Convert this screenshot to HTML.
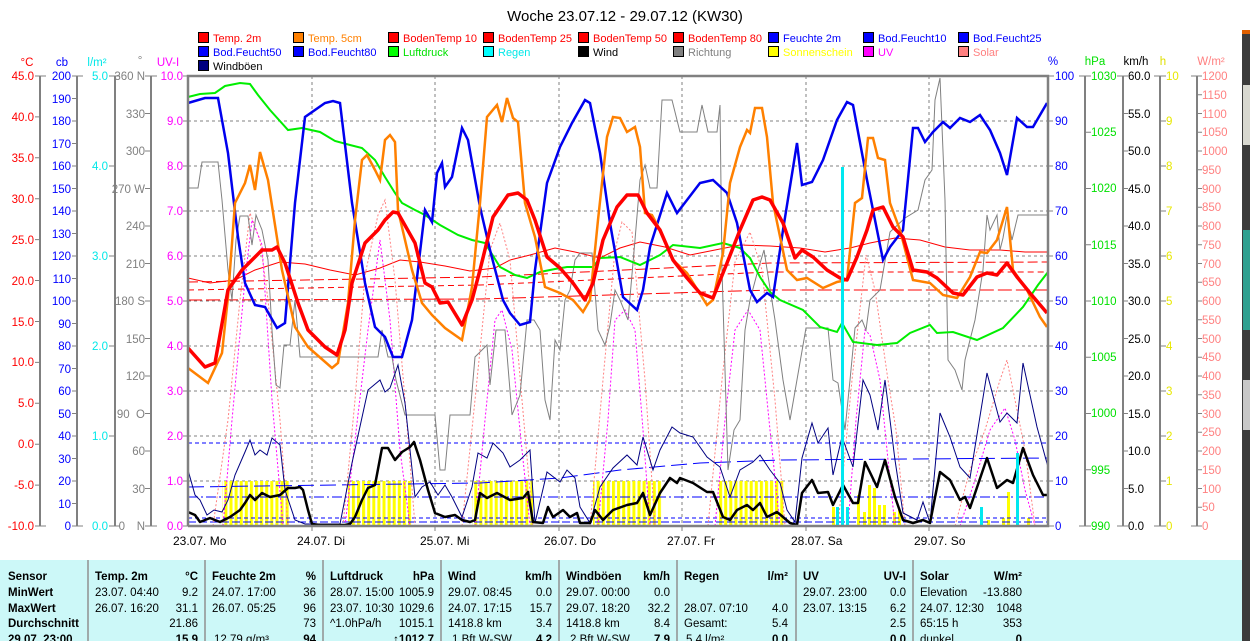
<!DOCTYPE html>
<html><head><meta charset="utf-8"><style>
html,body{margin:0;padding:0;background:#fff;width:1250px;height:641px;overflow:hidden}
svg{display:block;font-family:"Liberation Sans",sans-serif}
</style></head><body>
<svg width="1250" height="641" viewBox="0 0 1250 641" xmlns="http://www.w3.org/2000/svg">
<defs>
<pattern id="sun" x="0" y="0" width="5.1" height="60" patternUnits="userSpaceOnUse"><rect x="0" y="0" width="3" height="60" fill="#ffff00"/></pattern>
</defs>
<rect x="1242" y="30" width="8" height="611" fill="#3c3c3c"/>
<rect x="1242" y="30" width="8" height="4" fill="#e06000"/>
<rect x="1243" y="85" width="7" height="60" fill="#d8d8d0"/>
<rect x="1243" y="230" width="7" height="100" fill="#30a090"/>
<rect x="1243" y="380" width="7" height="50" fill="#c8c8c8"/>

<text x="625" y="21" font-size="15" text-anchor="middle" fill="#000">Woche 23.07.12 - 29.07.12 (KW30)</text>

<!-- legend -->
<g font-size="11" stroke-width="1">
<rect x="198.5" y="32.5" width="10" height="10" fill="#f00" stroke="#000"/><text x="213" y="42" fill="#f00">Temp. 2m</text>
<rect x="293.5" y="32.5" width="10" height="10" fill="#ff8000" stroke="#000"/><text x="308" y="42" fill="#ff8000">Temp. 5cm</text>
<rect x="388.5" y="32.5" width="10" height="10" fill="#f00" stroke="#000"/><text x="403" y="42" fill="#f00">BodenTemp 10</text>
<rect x="483.5" y="32.5" width="10" height="10" fill="#f00" stroke="#000"/><text x="498" y="42" fill="#f00">BodenTemp 25</text>
<rect x="578.5" y="32.5" width="10" height="10" fill="#f00" stroke="#000"/><text x="593" y="42" fill="#f00">BodenTemp 50</text>
<rect x="673.5" y="32.5" width="10" height="10" fill="#f00" stroke="#000"/><text x="688" y="42" fill="#f00">BodenTemp 80</text>
<rect x="768.5" y="32.5" width="10" height="10" fill="#00f" stroke="#000"/><text x="783" y="42" fill="#00f">Feuchte 2m</text>
<rect x="863.5" y="32.5" width="10" height="10" fill="#00f" stroke="#000"/><text x="878" y="42" fill="#00f">Bod.Feucht10</text>
<rect x="958.5" y="32.5" width="10" height="10" fill="#00f" stroke="#000"/><text x="973" y="42" fill="#00f">Bod.Feucht25</text>
<rect x="198.5" y="46.5" width="10" height="10" fill="#00f" stroke="#000"/><text x="213" y="56" fill="#00f">Bod.Feucht50</text>
<rect x="293.5" y="46.5" width="10" height="10" fill="#00f" stroke="#000"/><text x="308" y="56" fill="#00f">Bod.Feucht80</text>
<rect x="388.5" y="46.5" width="10" height="10" fill="#00ff00" stroke="#000"/><text x="403" y="56" fill="#00e000">Luftdruck</text>
<rect x="483.5" y="46.5" width="10" height="10" fill="#00ffff" stroke="#000"/><text x="498" y="56" fill="#00e8e8">Regen</text>
<rect x="578.5" y="46.5" width="10" height="10" fill="#000" stroke="#000"/><text x="593" y="56" fill="#000">Wind</text>
<rect x="673.5" y="46.5" width="10" height="10" fill="#808080" stroke="#000"/><text x="688" y="56" fill="#808080">Richtung</text>
<rect x="768.5" y="46.5" width="10" height="10" fill="#ffff00" stroke="#000"/><text x="783" y="56" fill="#ffff00">Sonnenschein</text>
<rect x="863.5" y="46.5" width="10" height="10" fill="#ff00ff" stroke="#000"/><text x="878" y="56" fill="#ff00ff">UV</text>
<rect x="958.5" y="46.5" width="10" height="10" fill="#ff8080" stroke="#000"/><text x="973" y="56" fill="#ff8080">Solar</text>
<rect x="198.5" y="60.5" width="10" height="10" fill="#000080" stroke="#000"/><text x="213" y="70" fill="#000">Windböen</text>
</g>

<!-- axis headers -->
<g font-size="11.5">
<text x="27" y="66" fill="#f00" text-anchor="middle">°C</text>
<text x="62" y="66" fill="#00f" text-anchor="middle">cb</text>
<text x="97" y="66" fill="#00e8e8" text-anchor="middle">l/m²</text>
<text x="140" y="64" fill="#808080" text-anchor="middle">°</text>
<text x="168" y="66" fill="#ff00ff" text-anchor="middle">UV-I</text>
<text x="1053" y="65" fill="#00f" text-anchor="middle">%</text>
<text x="1095" y="65" fill="#00e000" text-anchor="middle">hPa</text>
<text x="1136" y="65" fill="#000" text-anchor="middle">km/h</text>
<text x="1163" y="65" fill="#e0e000" text-anchor="middle">h</text>
<text x="1211" y="65" fill="#ff8080" text-anchor="middle">W/m²</text>
</g>

<!-- axes lines -->
<g stroke="#808080" stroke-width="2" fill="none">
<line x1="40" y1="76" x2="40" y2="526"/>
<line x1="77" y1="76" x2="77" y2="526"/>
<line x1="115" y1="76" x2="115" y2="526"/>
<line x1="151" y1="76" x2="151" y2="526"/>
<line x1="1085" y1="76" x2="1085" y2="526"/>
<line x1="1123" y1="76" x2="1123" y2="526"/>
<line x1="1160" y1="76" x2="1160" y2="526"/>
<line x1="1197" y1="76" x2="1197" y2="526"/>
</g>
<g stroke="#808080" stroke-width="1">
<path d="M35 76H46M35 116.9H40M35 157.8H40M35 198.7H40M35 239.6H40M35 280.5H40M35 321.5H40M35 362.4H40M35 403.3H40M35 444.2H40M35 485.1H40M35 526H46"/>
<path d="M72 76H83M72 98.5H77M72 121H77M72 143.5H77M72 166H77M72 188.5H77M72 211H77M72 233.5H77M72 256H77M72 278.5H77M72 301H77M72 323.5H77M72 346H77M72 368.5H77M72 391H77M72 413.5H77M72 436H77M72 458.5H77M72 481H77M72 503.5H77M72 526H83"/>
<path d="M109 76H120M109 166H115M109 256H115M109 346H115M109 436H115M109 526H120"/>
<path d="M145 76H157M145 113.5H151M145 151H151M145 188.5H151M145 226H151M145 263.5H151M145 301H151M145 338.5H151M145 376H151M145 413.5H151M145 451H151M145 488.5H151M145 526H157"/>
<path d="M183 76H188M183 121H188M183 166H188M183 211H188M183 256H188M183 301H188M183 346H188M183 391H188M183 436H188M183 481H188M183 526H188"/>
<path d="M1048 76H1054M1048 121H1053M1048 166H1053M1048 211H1053M1048 256H1053M1048 301H1053M1048 346H1053M1048 391H1053M1048 436H1053M1048 481H1053M1048 526H1054"/>
<path d="M1079 76H1091M1085 132.25H1091M1085 188.5H1091M1085 244.75H1091M1085 301H1091M1085 357.25H1091M1085 413.5H1091M1085 469.75H1091M1079 526H1091"/>
<path d="M1117 76H1128M1123 113.5H1128M1123 151H1128M1123 188.5H1128M1123 226H1128M1123 263.5H1128M1123 301H1128M1123 338.5H1128M1123 376H1128M1123 413.5H1128M1123 451H1128M1123 488.5H1128M1117 526H1128"/>
<path d="M1154 76H1166M1160 121H1166M1160 166H1166M1160 211H1166M1160 256H1166M1160 301H1166M1160 346H1166M1160 391H1166M1160 436H1166M1160 481H1166M1154 526H1166"/>
<path d="M1191 76H1202M1197 94.75H1202M1197 113.5H1202M1197 132.25H1202M1197 151H1202M1197 169.75H1202M1197 188.5H1202M1197 207.25H1202M1197 226H1202M1197 244.75H1202M1197 263.5H1202M1197 282.25H1202M1197 301H1202M1197 319.75H1202M1197 338.5H1202M1197 357.25H1202M1197 376H1202M1197 394.75H1202M1197 413.5H1202M1197 432.25H1202M1197 451H1202M1197 469.75H1202M1197 488.5H1202M1197 507.25H1202M1191 526H1202"/>
</g>

<!-- left labels -->
<g font-size="11.5" text-anchor="end">
<g fill="#f00"><text x="34" y="80">45.0</text><text x="34" y="121">40.0</text><text x="34" y="162">35.0</text><text x="34" y="203">30.0</text><text x="34" y="244">25.0</text><text x="34" y="285">20.0</text><text x="34" y="326">15.0</text><text x="34" y="366">10.0</text><text x="34" y="407">5.0</text><text x="34" y="448">0.0</text><text x="34" y="489">-5.0</text><text x="34" y="530">-10.0</text></g>
<g fill="#00f"><text x="71" y="80">200</text><text x="71" y="103">190</text><text x="71" y="125">180</text><text x="71" y="148">170</text><text x="71" y="170">160</text><text x="71" y="193">150</text><text x="71" y="215">140</text><text x="71" y="238">130</text><text x="71" y="260">120</text><text x="71" y="283">110</text><text x="71" y="305">100</text><text x="71" y="328">90</text><text x="71" y="350">80</text><text x="71" y="373">70</text><text x="71" y="395">60</text><text x="71" y="418">50</text><text x="71" y="440">40</text><text x="71" y="463">30</text><text x="71" y="485">20</text><text x="71" y="508">10</text><text x="71" y="530">0</text></g>
<g fill="#00e8e8"><text x="108" y="80">5.0</text><text x="108" y="170">4.0</text><text x="108" y="260">3.0</text><text x="108" y="350">2.0</text><text x="108" y="440">1.0</text><text x="108" y="530">0.0</text></g>
<g fill="#808080"><text x="145" y="80">360 N</text><text x="145" y="118">330</text><text x="145" y="155">300</text><text x="145" y="193">270 W</text><text x="145" y="230">240</text><text x="145" y="268">210</text><text x="145" y="305">180 S</text><text x="145" y="343">150</text><text x="145" y="380">120</text><text x="145" y="418" xml:space="preserve">90  O</text><text x="145" y="455">60</text><text x="145" y="493">30</text><text x="125" y="530">0</text><text x="145" y="530">N</text></g>
<g fill="#ff00ff"><text x="183" y="80">10.0</text><text x="183" y="125">9.0</text><text x="183" y="170">8.0</text><text x="183" y="215">7.0</text><text x="183" y="260">6.0</text><text x="183" y="305">5.0</text><text x="183" y="350">4.0</text><text x="183" y="395">3.0</text><text x="183" y="440">2.0</text><text x="183" y="485">1.0</text><text x="183" y="530">0.0</text></g>
</g>
<!-- right labels -->
<g font-size="11.5">
<g fill="#00f"><text x="1055" y="80">100</text><text x="1055" y="125">90</text><text x="1055" y="170">80</text><text x="1055" y="215">70</text><text x="1055" y="260">60</text><text x="1055" y="305">50</text><text x="1055" y="350">40</text><text x="1055" y="395">30</text><text x="1055" y="440">20</text><text x="1055" y="485">10</text><text x="1055" y="530">0</text></g>
<g fill="#00e000"><text x="1091" y="80">1030</text><text x="1091" y="136">1025</text><text x="1091" y="192">1020</text><text x="1091" y="249">1015</text><text x="1091" y="305">1010</text><text x="1091" y="361">1005</text><text x="1091" y="417">1000</text><text x="1091" y="474">995</text><text x="1091" y="530">990</text></g>
<g fill="#000"><text x="1128" y="80">60.0</text><text x="1128" y="118">55.0</text><text x="1128" y="155">50.0</text><text x="1128" y="193">45.0</text><text x="1128" y="230">40.0</text><text x="1128" y="268">35.0</text><text x="1128" y="305">30.0</text><text x="1128" y="343">25.0</text><text x="1128" y="380">20.0</text><text x="1128" y="418">15.0</text><text x="1128" y="455">10.0</text><text x="1128" y="493">5.0</text><text x="1128" y="530">0.0</text></g>
<g fill="#e8e800"><text x="1166" y="80">10</text><text x="1166" y="125">9</text><text x="1166" y="170">8</text><text x="1166" y="215">7</text><text x="1166" y="260">6</text><text x="1166" y="305">5</text><text x="1166" y="350">4</text><text x="1166" y="395">3</text><text x="1166" y="440">2</text><text x="1166" y="485">1</text><text x="1166" y="530">0</text></g>
<g fill="#ff8080"><text x="1202" y="80">1200</text><text x="1202" y="99">1150</text><text x="1202" y="118">1100</text><text x="1202" y="136">1050</text><text x="1202" y="155">1000</text><text x="1202" y="174">950</text><text x="1202" y="193">900</text><text x="1202" y="211">850</text><text x="1202" y="230">800</text><text x="1202" y="249">750</text><text x="1202" y="268">700</text><text x="1202" y="286">650</text><text x="1202" y="305">600</text><text x="1202" y="324">550</text><text x="1202" y="343">500</text><text x="1202" y="361">450</text><text x="1202" y="380">400</text><text x="1202" y="399">350</text><text x="1202" y="418">300</text><text x="1202" y="436">250</text><text x="1202" y="455">200</text><text x="1202" y="474">150</text><text x="1202" y="493">100</text><text x="1202" y="511">50</text><text x="1202" y="530">0</text></g>
</g>

<!-- grid -->
<g stroke="#808080" stroke-width="1" stroke-dasharray="3,3">
<path d="M188 121H1048M188 166H1048M188 211H1048M188 256H1048M188 301H1048M188 346H1048M188 391H1048M188 436H1048M188 481H1048"/>
<path d="M312 76V526M435 76V526M559 76V526M682 76V526M806 76V526M929 76V526"/>
</g>

<!-- sunshine -->
<g fill="url(#sun)">
<rect x="222" y="481" width="68" height="45"/>
<rect x="348" y="481" width="64" height="45"/>
<rect x="472" y="481" width="61" height="45"/>
<rect x="593" y="481" width="70" height="45"/>
<rect x="717" y="481" width="68" height="45"/>
</g>
<g fill="#ffff00">
<rect x="770" y="481" width="3" height="45"/><rect x="775" y="490" width="3" height="36"/>
<rect x="832" y="507" width="3" height="19"/><rect x="857" y="495" width="3" height="31"/><rect x="863" y="512" width="3" height="14"/><rect x="868" y="485" width="3" height="41"/><rect x="873" y="488" width="3" height="38"/><rect x="878" y="505" width="3" height="21"/><rect x="883" y="505" width="3" height="21"/><rect x="893" y="512" width="3" height="14"/><rect x="898" y="510" width="3" height="16"/>
<rect x="987" y="520" width="3" height="6"/><rect x="1002" y="518" width="3" height="8"/><rect x="1007" y="492" width="3" height="34"/><rect x="1027" y="518" width="3" height="8"/>
</g>

<!-- soil temps / soil moisture dashed -->
<g fill="none" stroke-width="1">
<path d="M188 282L480 277L770 263L1048 262" stroke="#f00" stroke-dasharray="10,4"/>
<path d="M188 290L480 285L770 272L1048 272" stroke="#f00" stroke-dasharray="6,4"/>
<path d="M188 300L480 299L770 290L1048 290" stroke="#f00" stroke-dasharray="14,4"/>
<path d="M188 278L210 283L235 280L255 270L280 262L305 264L330 270L355 275L380 268L400 260L420 262L445 266L470 271L495 268L510 260L530 255L555 248L575 252L600 258L620 248L640 242L665 247L690 255L715 250L740 245L770 246L800 248L825 252L850 248L870 243L895 238L920 240L945 247L970 250L1000 250L1025 252L1048 252" stroke="#f00"/>
<path d="M188 443H1048" stroke="#00f" stroke-dasharray="4,3"/>
<path d="M188 487L480 483L560 478L620 470L700 463L780 460L1048 458" stroke="#00f" stroke-dasharray="16,6"/>
<path d="M188 497H1048" stroke="#00f" stroke-dasharray="10,3,2,3"/>
<path d="M188 518H1048" stroke="#00f" stroke-dasharray="4,3"/>
<path d="M188 522H1048" stroke="#00f" stroke-dasharray="8,3"/>
</g>

<!-- solar & uv dotted -->
<g fill="none" stroke-width="1" stroke-dasharray="2,2">
<path stroke="#ff8080" d="M213 526L228 420L240 300L250 213L260 240L268 300L280 420L288 526M343 526L355 400L365 275L378 215L385 200L395 280L405 400L415 526M462 526L475 400L490 250L500 223L510 260L522 400L533 526M590 526L603 380L615 250L622 222L632 232L645 380L655 526M708 526L722 380L735 262L750 232L762 270L775 400L785 526M838 526L852 380L866 255L875 290L888 380L896 430L905 526M955 526L970 470L985 430L1000 380L1007 360L1015 400L1025 450L1035 526"/>
<path stroke="#ff00ff" d="M223 526L232 420L245 280L252 220L262 245L272 400L283 526M345 526L355 440L368 330L380 240L390 320L400 450L410 526M475 526L485 420L495 320L502 310L512 350L522 450L530 526M598 526L608 420L615 320L625 310L635 330L643 430L650 526M715 526L725 420L735 330L748 310L760 330L770 430L780 526M848 526L856 420L865 330L870 335L880 380L888 460L895 526M960 526L975 480L990 430L1005 408L1015 440L1025 490L1035 526"/>
</g>

<!-- wind direction -->
<polyline fill="none" stroke="#808080" stroke-width="1" points="188,188 198,188 202,162 218,162 222,200 228,270 232,300 236,240 240,216 248,216 252,245 256,215 262,230 268,260 272,330 276,385 280,388 284,345 290,345 295,300 300,357 378,357 382,330 388,357 392,357 396,380 405,415 430,415 435,415 440,470 445,470 450,415 470,415 475,357 487,345 490,385 496,330 505,330 512,415 520,395 527,320 534,320 540,330 545,400 550,420 555,340 560,350 565,300 570,290 575,260 580,253 592,253 598,330 605,345 610,325 615,290 620,300 628,320 635,240 640,180 645,165 650,188 657,188 662,100 672,100 680,132 697,132 702,105 708,132 717,132 720,105 722,270 728,470 734,430 740,420 745,330 750,300 758,270 764,250 775,320 783,380 790,420 806,328 828,328 833,380 838,383 845,430 850,380 855,328 862,320 866,330 870,300 880,290 890,232 905,218 918,210 925,180 932,170 935,100 940,78 945,200 948,360 955,370 962,390 965,360 975,320 983,270 987,215 990,230 997,215 1000,250 1003,238 1007,215 1012,240 1018,215 1048,215"/>

<!-- gusts -->
<polyline fill="none" stroke="#000080" stroke-width="1" points="188,470 195,495 200,500 207,515 214,510 222,512 228,500 235,475 245,452 250,440 255,455 260,450 267,455 272,438 280,445 285,490 295,520 305,524 340,524 352,463 368,390 380,380 385,392 390,388 398,365 405,403 415,497 422,487 430,482 438,495 445,485 452,497 462,517 472,487 478,453 487,458 493,443 503,453 510,467 520,460 530,450 535,523 547,472 560,482 567,470 575,478 580,507 590,523 600,487 613,468 627,455 637,465 643,437 653,470 660,450 672,427 680,433 693,437 707,457 720,467 730,497 740,470 753,462 760,455 770,470 780,483 787,510 795,522 802,458 812,423 818,443 828,428 833,475 842,437 853,467 863,380 870,395 878,430 885,380 895,460 903,513 917,520 923,502 930,523 940,413 950,437 960,467 970,478 987,373 1000,422 1007,413 1017,423 1023,363 1037,427 1048,467"/>

<!-- pressure -->
<polyline fill="none" stroke="#00ee00" stroke-width="2" points="188,97 200,94 215,93 225,86 240,83 250,84 258,95 270,110 288,130 302,128 320,132 335,141 350,145 362,148 375,160 385,177 395,193 402,203 415,210 425,215 440,225 458,235 472,240 485,243 500,267 515,275 527,278 540,272 555,269 567,267 593,267 600,258 620,257 640,265 660,255 673,245 700,248 723,243 740,248 750,258 760,277 770,292 780,300 803,310 820,327 837,332 842,323 853,342 877,345 897,343 910,333 930,325 937,333 953,332 977,340 1003,328 1023,307 1038,285 1048,272"/>

<!-- humidity -->
<polyline fill="none" stroke="#0000ee" stroke-width="2.5" points="188,103 205,98 218,98 228,153 238,237 245,283 255,305 265,307 277,328 285,323 295,203 305,117 325,103 333,101 340,103 352,203 365,283 375,327 385,337 393,357 402,357 412,320 425,210 432,222 437,173 442,163 445,187 452,177 462,128 468,140 480,207 490,250 503,300 510,313 520,325 530,322 535,270 547,183 560,147 572,123 585,100 590,103 600,153 610,223 623,297 637,310 643,290 650,247 667,193 677,213 687,200 700,183 713,180 727,193 737,223 750,290 757,302 767,293 773,297 783,230 797,143 802,185 812,182 823,160 837,120 847,102 853,105 867,180 883,260 890,247 903,230 913,128 918,128 925,142 933,132 943,122 950,128 960,118 970,122 980,115 990,130 1000,153 1007,175 1017,118 1027,127 1033,127 1047,103"/>

<!-- temp 5cm -->
<polyline fill="none" stroke="#ff8000" stroke-width="2.5" points="188,368 208,383 222,353 228,297 235,203 245,183 250,165 255,190 260,152 268,180 282,270 295,327 308,347 332,368 338,363 348,303 355,220 362,160 367,155 375,170 380,180 385,140 390,135 395,142 398,210 412,270 422,303 432,315 445,328 462,340 472,287 480,203 487,117 497,105 502,122 507,98 513,118 518,122 525,203 535,237 545,287 560,293 573,300 583,312 590,300 598,220 607,137 613,117 620,118 627,132 635,127 640,147 645,213 652,215 660,230 673,260 687,273 707,305 713,300 723,253 730,183 740,147 747,130 750,133 755,108 762,108 767,137 773,203 787,270 797,280 807,278 823,288 837,282 847,280 855,203 862,198 868,138 873,138 878,158 885,160 890,203 900,230 913,280 930,283 943,295 957,298 970,277 980,252 987,253 997,240 1007,207 1013,270 1027,290 1040,317 1047,327"/>

<!-- temp 2m -->
<polyline fill="none" stroke="#ff0000" stroke-width="3.5" stroke-linejoin="round" points="188,348 205,367 215,363 228,290 242,270 252,260 262,250 272,250 277,247 285,263 298,303 308,330 325,347 337,355 345,330 352,283 365,243 378,230 385,220 393,212 398,213 415,243 425,283 432,287 440,303 448,302 462,325 472,300 480,270 493,217 508,195 518,193 527,200 535,220 547,257 560,268 573,283 585,300 593,283 603,240 617,207 627,195 638,195 647,213 660,230 673,260 687,278 700,293 713,298 727,263 740,230 753,200 762,197 770,200 783,223 795,258 802,250 813,257 827,270 840,278 847,280 857,257 867,230 873,210 883,207 893,227 903,237 913,270 927,272 937,278 953,293 963,295 977,277 987,273 997,275 1007,263 1017,277 1030,293 1047,313"/>

<!-- wind -->
<polyline fill="none" stroke="#000" stroke-width="2.5" stroke-linejoin="round" points="188,512 195,515 200,522 210,518 220,522 230,517 240,510 245,503 250,495 255,500 262,493 270,497 280,495 288,488 295,488 300,487 303,490 308,510 312,524 320,525 345,525 350,524 355,517 362,500 368,488 375,485 382,448 388,448 395,460 402,452 410,447 414,442 420,460 428,490 435,513 445,517 455,515 462,520 470,522 475,520 480,493 487,498 497,493 510,500 523,498 528,492 533,522 543,523 548,507 553,517 563,510 570,517 577,513 580,523 590,523 595,510 603,520 613,510 627,505 637,503 643,493 650,515 660,493 670,478 677,483 680,478 693,483 707,492 713,492 723,517 730,520 737,510 747,505 753,510 760,503 767,517 777,512 783,517 790,523 797,525 802,493 812,480 818,493 828,492 833,505 843,485 853,503 858,503 865,462 877,487 885,460 895,497 903,520 913,523 923,520 930,523 940,472 950,480 960,500 965,497 970,508 987,458 997,488 1007,480 1013,483 1023,448 1033,475 1043,495 1048,495"/>

<!-- rain -->
<g fill="#00e8f0">
<rect x="841" y="167" width="3" height="359"/>
<rect x="836" y="507" width="3" height="19"/><rect x="846" y="507" width="3" height="19"/>
<rect x="980" y="507" width="3" height="19"/>
<rect x="1016" y="453" width="3" height="73"/>
</g>

<!-- frame -->
<path d="M188 526V76H1048V526H188" fill="none" stroke="#808080" stroke-width="2.5"/>
<g stroke="#808080" stroke-width="1"><path d="M312 526V531M435 526V531M559 526V531M682 526V531M806 526V531M929 526V531"/></g>

<!-- day labels -->
<g font-size="12" fill="#000" xml:space="preserve">
<text x="173" y="545">23.07.  Mo</text>
<text x="297" y="545">24.07.  Di</text>
<text x="420" y="545">25.07.  Mi</text>
<text x="544" y="545">26.07.  Do</text>
<text x="667" y="545">27.07.  Fr</text>
<text x="791" y="545">28.07.  Sa</text>
<text x="914" y="545">29.07.  So</text>
</g>

<!-- table -->
<rect x="0" y="560" width="1242" height="81" fill="#ccf8f8"/>
<g stroke="#909090" stroke-width="1.5"><path d="M88 560V641M205 560V641M323 560V641M441 560V641M559 560V641M677 560V641M796 560V641M913 560V641"/></g>
<g font-size="11.5" fill="#000">
<g font-weight="bold"><text x="8" y="580">Sensor</text><text x="8" y="596">MinWert</text><text x="8" y="612">MaxWert</text><text x="8" y="627">Durchschnitt</text><text x="8" y="643">29.07. 23:00</text>
<text x="95" y="580">Temp. 2m</text><text x="212" y="580">Feuchte 2m</text><text x="330" y="580">Luftdruck</text><text x="448" y="580">Wind</text><text x="566" y="580">Windböen</text><text x="684" y="580">Regen</text><text x="803" y="580">UV</text><text x="920" y="580">Solar</text>
</g>
<g font-weight="bold" text-anchor="end"><text x="198" y="580">°C</text><text x="316" y="580">%</text><text x="434" y="580">hPa</text><text x="552" y="580">km/h</text><text x="670" y="580">km/h</text><text x="788" y="580">l/m²</text><text x="906" y="580">UV-I</text><text x="1022" y="580">W/m²</text>
<text x="198" y="643">15.9</text><text x="316" y="643">94</text><text x="434" y="643">↑1012.7</text><text x="552" y="643">4.2</text><text x="670" y="643">7.9</text><text x="788" y="643">0.0</text><text x="906" y="643">0.0</text><text x="1022" y="643">0</text></g>
<g><text x="95" y="596">23.07.  04:40</text><text x="95" y="612">26.07.  16:20</text>
<text x="212" y="596">24.07.  17:00</text><text x="212" y="612">26.07.  05:25</text><text x="214" y="643">12.79 g/m³</text>
<text x="330" y="596">28.07.  15:00</text><text x="330" y="612">23.07.  10:30</text><text x="330" y="627">^1.0hPa/h</text>
<text x="448" y="596">29.07.  08:45</text><text x="448" y="612">24.07.  17:15</text><text x="448" y="627">1418.8 km</text><text x="452" y="643">1 Bft W-SW</text>
<text x="566" y="596">29.07.  00:00</text><text x="566" y="612">29.07.  18:20</text><text x="566" y="627">1418.8 km</text><text x="570" y="643">2 Bft W-SW</text>
<text x="684" y="612">28.07.  07:10</text><text x="684" y="627">Gesamt:</text><text x="686" y="643">5.4 l/m²</text>
<text x="803" y="596">29.07.  23:00</text><text x="803" y="612">23.07.  13:15</text>
<text x="920" y="596">Elevation</text><text x="920" y="612">24.07.  12:30</text><text x="920" y="627">65:15 h</text><text x="920" y="643">dunkel</text>
</g>
<g text-anchor="end"><text x="198" y="596">9.2</text><text x="198" y="612">31.1</text><text x="198" y="627">21.86</text>
<text x="316" y="596">36</text><text x="316" y="612">96</text><text x="316" y="627">73</text>
<text x="434" y="596">1005.9</text><text x="434" y="612">1029.6</text><text x="434" y="627">1015.1</text>
<text x="552" y="596">0.0</text><text x="552" y="612">15.7</text><text x="552" y="627">3.4</text>
<text x="670" y="596">0.0</text><text x="670" y="612">32.2</text><text x="670" y="627">8.4</text>
<text x="788" y="612">4.0</text><text x="788" y="627">5.4</text>
<text x="906" y="596">0.0</text><text x="906" y="612">6.2</text><text x="906" y="627">2.5</text>
<text x="1022" y="596">-13.880</text><text x="1022" y="612">1048</text><text x="1022" y="627">353</text></g>
</g>
</svg>
</body></html>
